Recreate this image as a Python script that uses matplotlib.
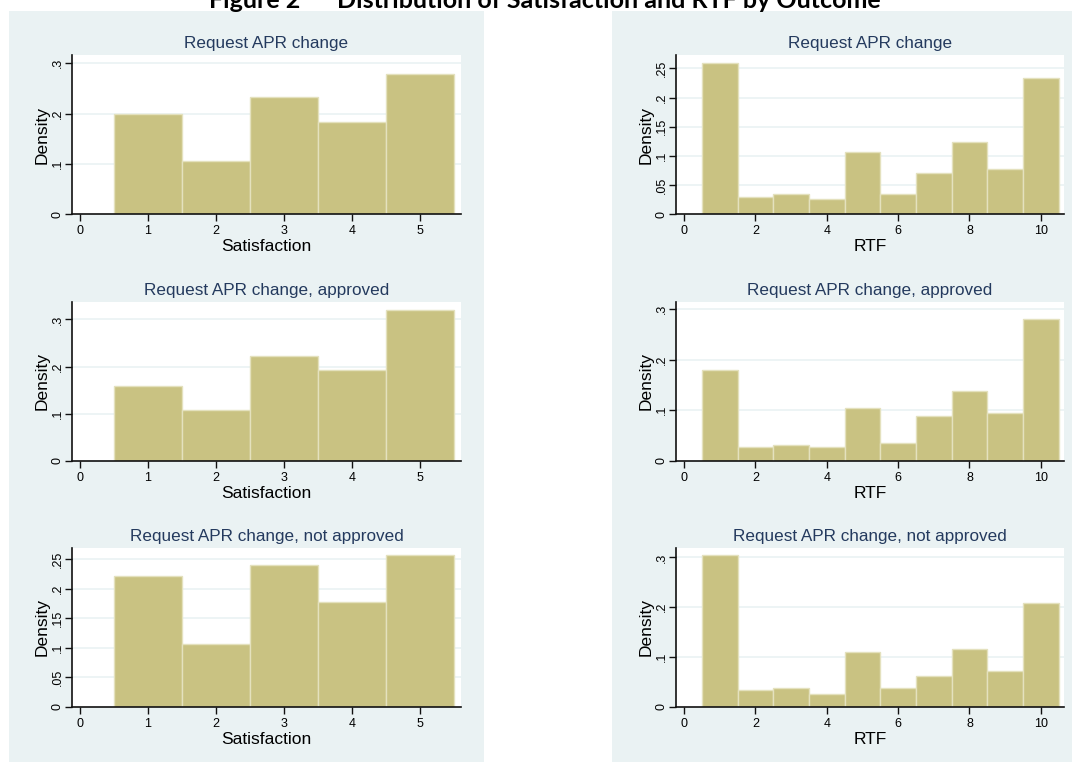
import matplotlib
matplotlib.use('Agg')
import matplotlib.pyplot as plt
from matplotlib.patches import Rectangle

plt.rcParams['font.family'] = ['Liberation Sans', 'DejaVu Sans']

# data (density per bin)
sat_bins = [1, 2, 3, 4, 5]
rtf_bins = [1, 2, 3, 4, 5, 6, 7, 8, 9, 10]

sat_all = [0.1985, 0.105, 0.2336, 0.1825, 0.2793]
sat_approved = [0.158, 0.108, 0.222, 0.192, 0.320]
sat_not_approved = [0.2217, 0.1058, 0.241, 0.1776, 0.2568]

rtf_all = [0.2586, 0.030, 0.0343, 0.0257, 0.1058, 0.0343, 0.0709, 0.123, 0.0772, 0.2334]
rtf_approved = [0.179, 0.0264, 0.0316, 0.0264, 0.1035, 0.0343, 0.089, 0.1385, 0.0936, 0.2796]
rtf_not_approved = [0.304, 0.0342, 0.0382, 0.0261, 0.109, 0.0368, 0.0623, 0.1159, 0.071, 0.209]

titles = ['Request APR change', 'Request APR change, approved',
          'Request APR change, not approved']

sat_yticks = [[0, .1, .2, .3], [0, .1, .2, .3], [0, .05, .1, .15, .2, .25]]
rtf_yticks = [[0, .05, .1, .15, .2, .25], [0, .1, .2, .3], [0, .1, .2, .3]]
sat_ytop = [0.3165, 0.3376, 0.2698]
rtf_ytop = [0.273, 0.3145, 0.3195]

W, H = 1072, 765
BG = '#EAF2F3'
BAR = '#C9C282'
TITLE_C = '#243A5E'

fig = plt.figure(figsize=(W / 100, H / 100), dpi=100)


def fig_rect(x0, y0, x1, y1):
    # pixel box (top-left origin) -> figure fraction rect
    return [x0 / W, 1 - y1 / H, (x1 - x0) / W, (y1 - y0) / H]


# panel backgrounds
for x0, x1 in [(9, 484), (612, 1072)]:
    r = fig_rect(x0, 11, x1, 762)
    fig.patches.append(Rectangle((r[0], r[1]), r[2], r[3], transform=fig.transFigure,
                                 facecolor=BG, edgecolor='none', zorder=-10))

fig.text(545 / W, 1 - 8 / H, 'Figure 2      Distribution of Satisfaction and RTF by Outcome',
         ha='center', va='baseline', fontsize=18, fontweight='bold',
         family=['Lato', 'DejaVu Sans'])


def fmt(v):
    if v == 0:
        return '0'
    return ('%g' % v).lstrip('0')


def draw(box, bins, vals, xlim, xticks, yticks, ytop, title, xlabel):
    x0, y0, x1, y1 = box
    ax = fig.add_axes(fig_rect(*box))
    ax.set_facecolor('white')
    ax.bar(bins, vals, width=1.0, color=BAR, edgecolor='#E4E1BE', linewidth=1, zorder=2)
    ax.set_xlim(*xlim)
    ax.set_ylim(0, ytop)
    ax.set_xticks(xticks)
    ax.set_xticklabels([str(t) for t in xticks], fontsize=9)
    ax.set_yticks(yticks)
    ax.set_yticklabels([fmt(t) for t in yticks], fontsize=9, rotation=90, va='center')
    for t in yticks[1:]:
        ax.axhline(t, color=BG, linewidth=1.2, zorder=1)
    for s in ['top', 'right']:
        ax.spines[s].set_visible(False)
    for s in ['left', 'bottom']:
        ax.spines[s].set_color('#111111')
        ax.spines[s].set_linewidth(1.2)
    ax.tick_params(direction='out', length=5, width=1, color='#111111')
    ax.tick_params(axis='y', pad=1)
    ax.tick_params(axis='x', pad=3)
    ax.set_title(title, fontsize=12.3, color=TITLE_C, pad=5)
    ax.set_xlabel(xlabel, fontsize=12.5, va='baseline')
    ax.set_ylabel('Density', fontsize=12.5, va='center')
    # label positions: Density ~30px left of the axis, x label baseline ~37px below it
    ax.yaxis.set_label_coords(-30 / (x1 - x0), 0.5)
    ax.xaxis.set_label_coords(0.5, -37 / (y1 - y0))
    return ax


rows_y = [(55, 214), (301.7, 460.7), (547.7, 706.7)]
sat_data = [sat_all, sat_approved, sat_not_approved]
rtf_data = [rtf_all, rtf_approved, rtf_not_approved]

for i, (y0, y1) in enumerate(rows_y):
    draw((72, y0, 461, y1), sat_bins, sat_data[i], (-0.118, 5.603), [0, 1, 2, 3, 4, 5],
         sat_yticks[i], sat_ytop[i], titles[i], 'Satisfaction')
    draw((676, y0, 1064, y1), rtf_bins, rtf_data[i], (-0.224, 10.65), [0, 2, 4, 6, 8, 10],
         rtf_yticks[i], rtf_ytop[i], titles[i], 'RTF')

fig.savefig('out.png', dpi=100, facecolor='white')
